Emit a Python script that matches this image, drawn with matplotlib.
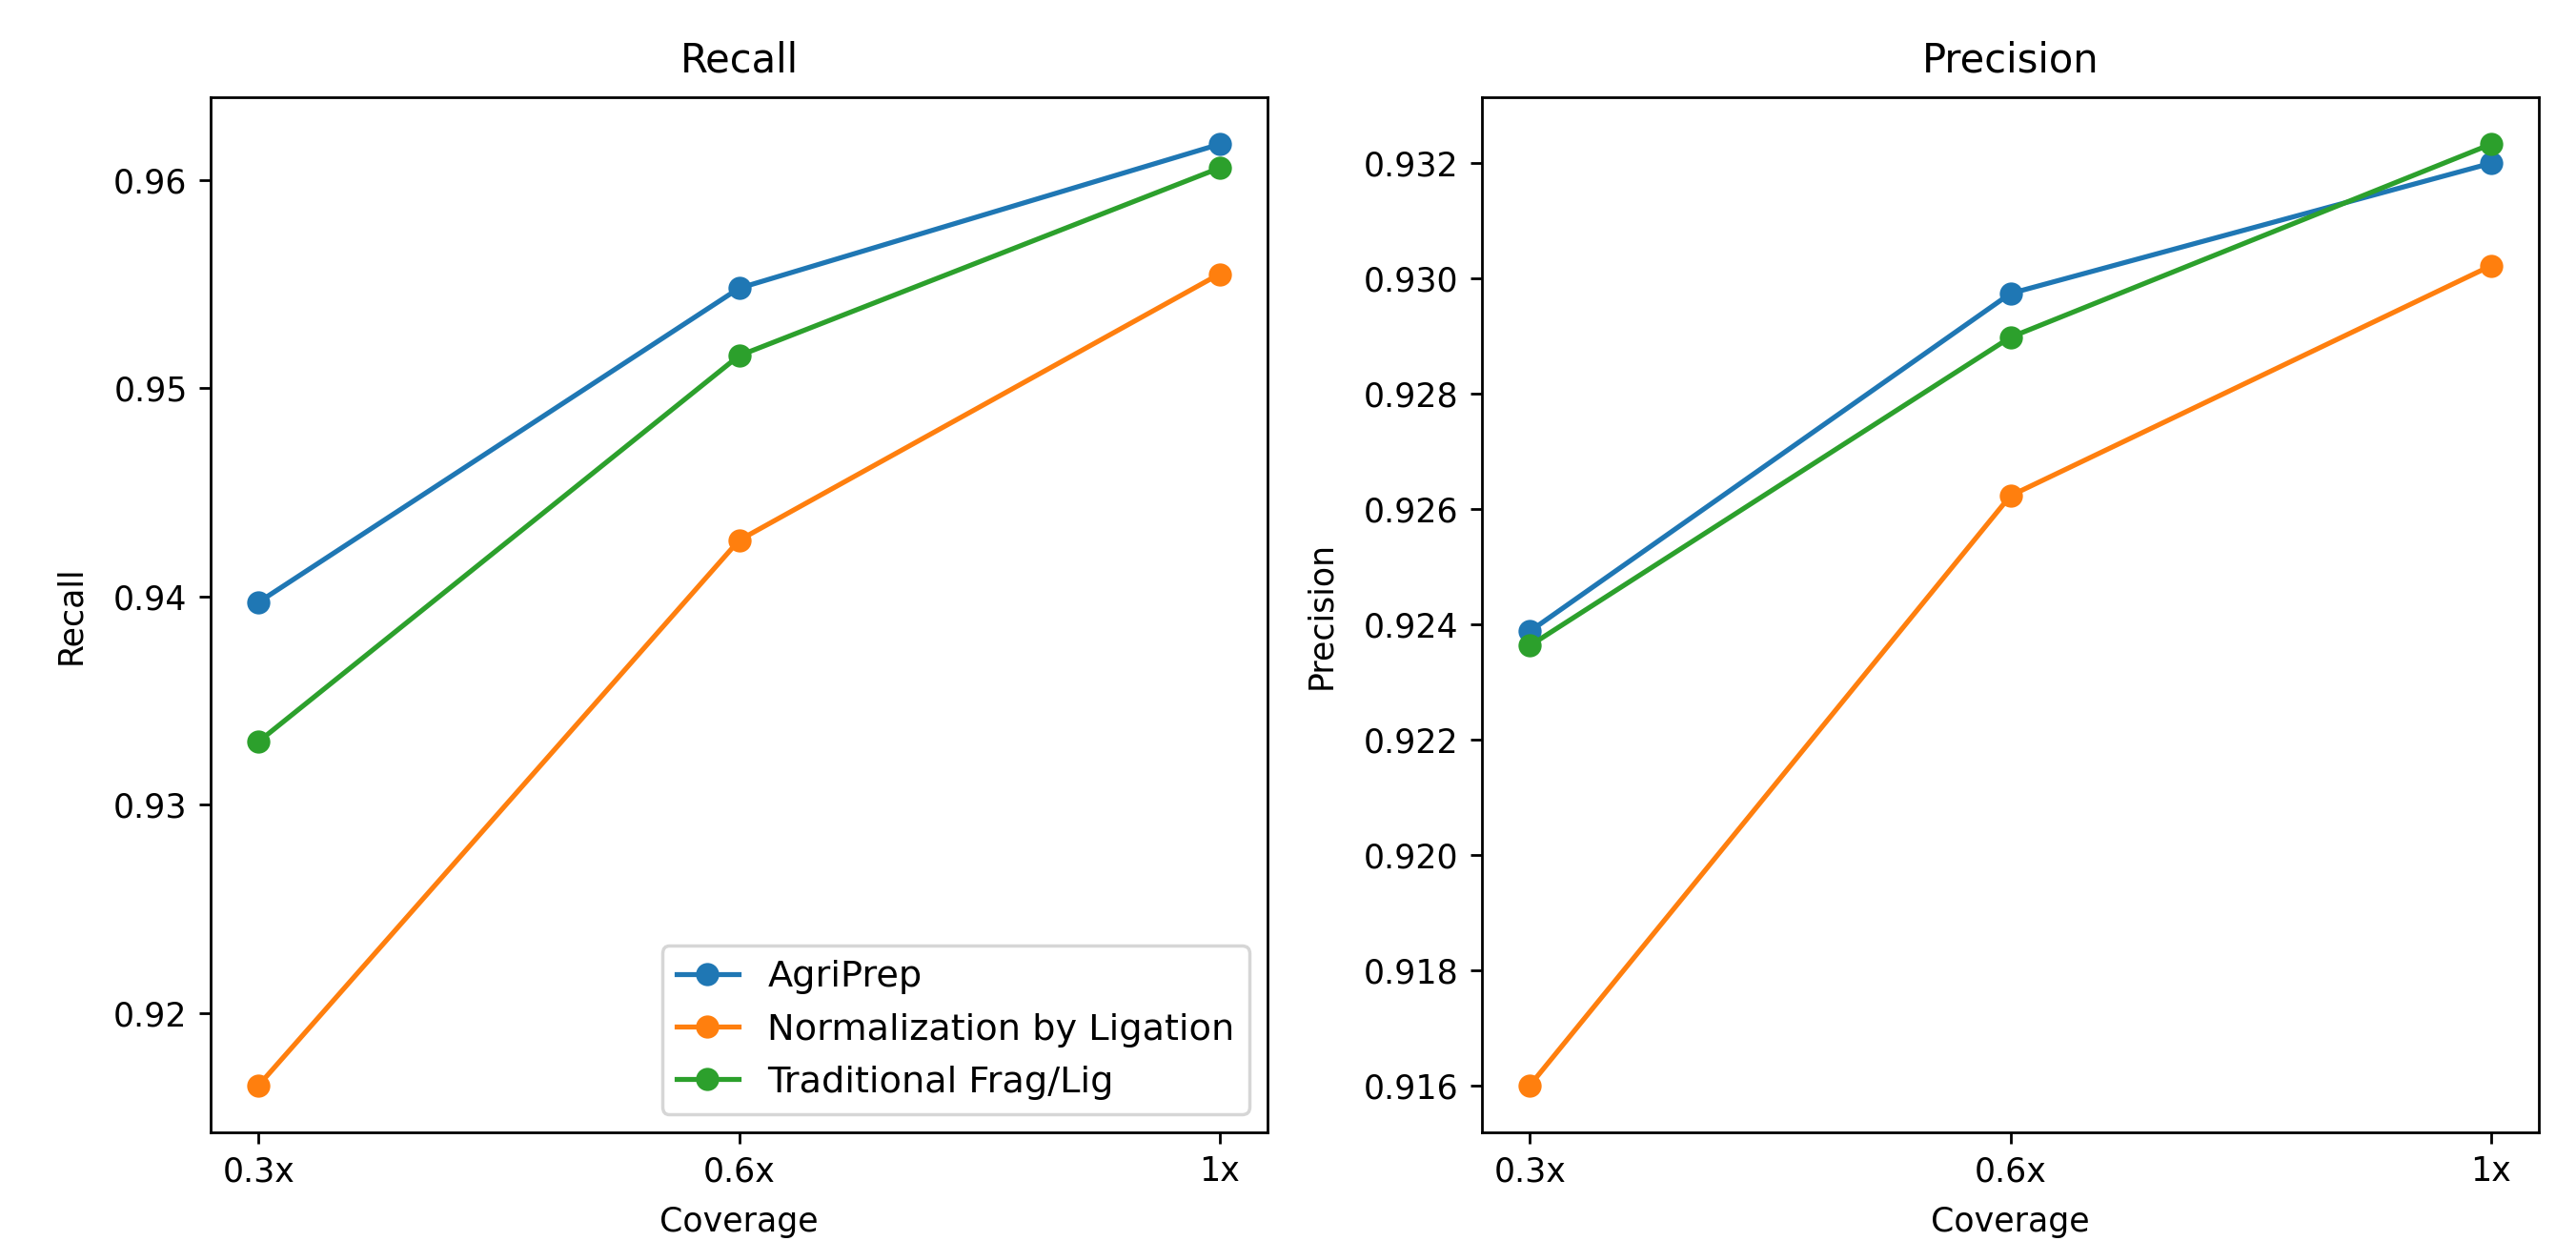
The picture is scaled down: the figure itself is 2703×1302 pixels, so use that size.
import matplotlib
matplotlib.use("Agg")
import matplotlib.pyplot as plt

coverage = ["0.3x", "0.6x", "1x"]
methods = ["AgriPrep", "Normalization by Ligation", "Traditional Frag/Lig"]

recall_agriprep = [0.93973, 0.95480, 0.96171]
recall_norm = [0.91654, 0.94270, 0.95548]
recall_trad = [0.93304, 0.95156, 0.96057]

precision_agriprep = [0.92388, 0.92974, 0.93200]
precision_norm = [0.91600, 0.92623, 0.93022]
precision_trad = [0.92363, 0.92898, 0.93233]

recall = [recall_agriprep, recall_norm, recall_trad]
precision = [precision_agriprep, precision_norm, precision_trad]

fig = plt.figure(figsize=(2703 / 250, 1302 / 250), dpi=250)
ax1 = fig.add_axes([221 / 2703, 114 / 1302, 1109 / 2703, 1086 / 1302])
ax2 = fig.add_axes([1555 / 2703, 114 / 1302, 1109 / 2703, 1086 / 1302])

for name, vals in zip(methods, recall):
    ax1.plot(coverage, vals, marker="o", label=name)
ax1.set_title("Recall", pad=7.5)
ax1.set_xlabel("Coverage", labelpad=5.5)
ax1.set_ylabel("Recall", labelpad=8)
ax1.legend(loc="lower right", fontsize=11, labelspacing=0.5, handlelength=1.7)

for name, vals in zip(methods, precision):
    ax2.plot(coverage, vals, marker="o", label=name)
ax2.set_title("Precision", pad=7.5)
ax2.set_xlabel("Coverage", labelpad=5.5)
ax2.set_ylabel("Precision", labelpad=8)

fig.savefig("out.png", dpi=250)
